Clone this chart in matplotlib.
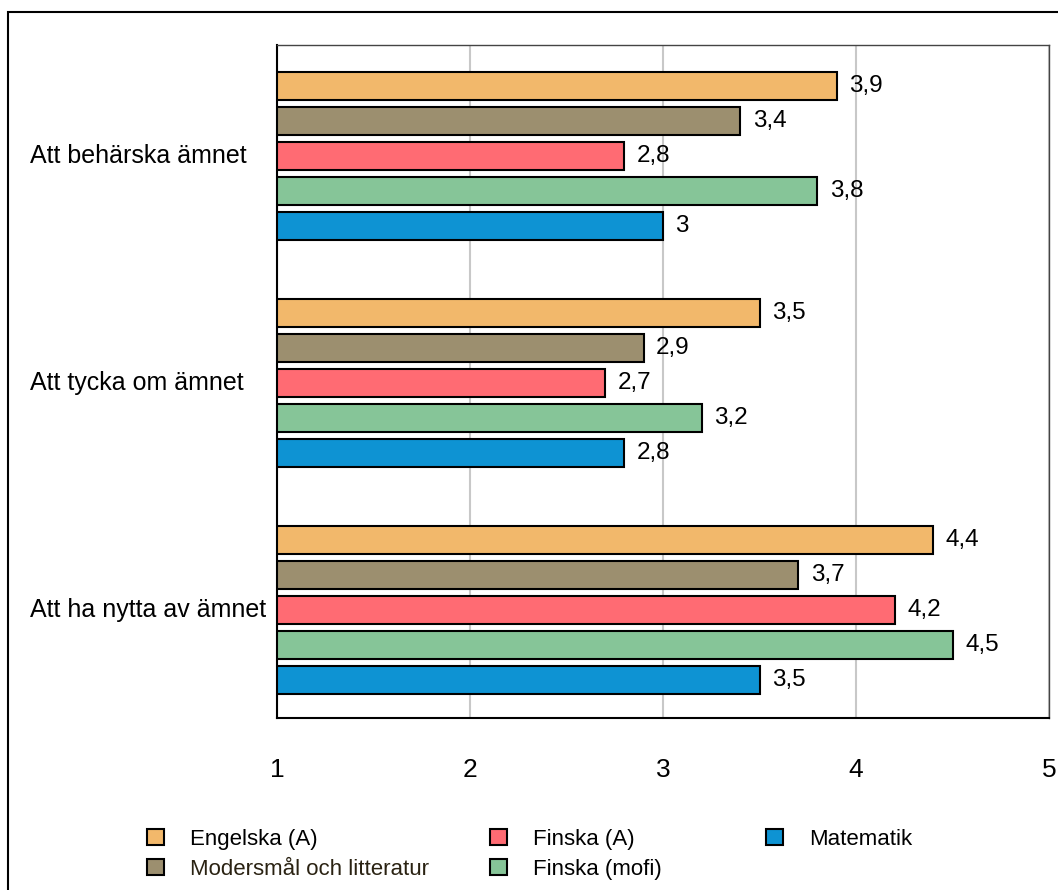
import numpy as np
import matplotlib
matplotlib.use("Agg")
import matplotlib.pyplot as plt
from matplotlib.patches import Patch, Rectangle
from matplotlib.transforms import blended_transform_factory

plt.rcParams['font.family'] = ['Liberation Sans', 'DejaVu Sans']

# ── Data ───────────────────────────────────────────────────────────────────
categories = ["Att behärska ämnet", "Att tycka om ämnet", "Att ha nytta av ämnet"]
series = ["Engelska (A)", "Modersmål och litteratur", "Finska (A)",
          "Finska (mofi)", "Matematik"]
engelska = [3.9, 3.5, 4.4]
modersmal = [3.4, 2.9, 3.7]
finska_a = [2.8, 2.7, 4.2]
finska_mofi = [3.8, 3.2, 4.5]
matematik = [3.0, 2.8, 3.5]
values = [engelska, modersmal, finska_a, finska_mofi, matematik]
colors = ["#F2B86B", "#9C8F6F", "#FF6B73", "#86C598", "#0E93D3"]
x_ticks = [1, 2, 3, 4, 5]

# ── Plot ───────────────────────────────────────────────────────────────────
fig = plt.figure(figsize=(10.58, 8.9), dpi=100)
W, H = 1058, 890
ax = fig.add_axes([277 / W, 1 - 718 / H, (1049 - 277) / W, (718 - 45) / H])

group_step = 6.5
for j, (name, vals, col) in enumerate(zip(series, values, colors)):
    ys = np.arange(len(categories)) * group_step + j
    widths = np.array(vals) - 1
    ax.barh(ys, widths, left=1, height=0.8, color=col, edgecolor="black",
            linewidth=1.5, zorder=3, label=name)
    for y, v in zip(ys, vals):
        ax.annotate(f"{v:g}".replace(".", ","), (v, y), xytext=(9, 0),
                    textcoords="offset points", va="center", ha="left",
                    fontsize=17.5, zorder=4)

ax.set_xlim(1, 5)
ax.set_ylim(18.09, -1.17)
ax.set_xticks(x_ticks)
ax.set_xticklabels([str(t) for t in x_ticks], fontsize=19)
ax.tick_params(axis="x", length=0, pad=29)
ax.set_yticks([])
ax.grid(axis="x", color="#c8c8c8", linewidth=1.5, zorder=0)

for s in ["left", "bottom"]:
    ax.spines[s].set_color("black")
    ax.spines[s].set_linewidth(1.5)
for s in ["top", "right"]:
    ax.spines[s].set_color("#444444")
    ax.spines[s].set_linewidth(1.0)

# category labels, left aligned at a fixed figure x
trans = blended_transform_factory(fig.transFigure, ax.transData)
for i, cat in enumerate(categories):
    ax.text(30 / W, i * group_step + 2, cat, transform=trans, ha="left",
            va="center", fontsize=18)

# legend in three columns
handles = [Patch(facecolor=c, edgecolor="black", linewidth=1.5) for c in colors]
cols = [[0, 1], [2, 3], [4]]
col_x = [147, 490, 766]
for idx, x0 in zip(cols, col_x):
    leg = fig.legend([handles[k] for k in idx], [series[k] for k in idx],
                     loc="upper left", bbox_to_anchor=(x0 / W, 1 - 829 / H),
                     frameon=False, fontsize=16, handlelength=0.75,
                     handleheight=0.75, handletextpad=1.2, labelspacing=0.4,
                     borderaxespad=0, borderpad=0)
    for t in leg.get_texts():
        if t.get_text().startswith("Modersmål"):
            t.set_color("#2a2212")

# outer frame
fig.patches.append(Rectangle((8 / W, -0.1), 1.2, 1.1 - 12 / H,
                             transform=fig.transFigure, fill=False,
                             edgecolor="black", linewidth=1.5))

fig.savefig("out.png", dpi=100)
